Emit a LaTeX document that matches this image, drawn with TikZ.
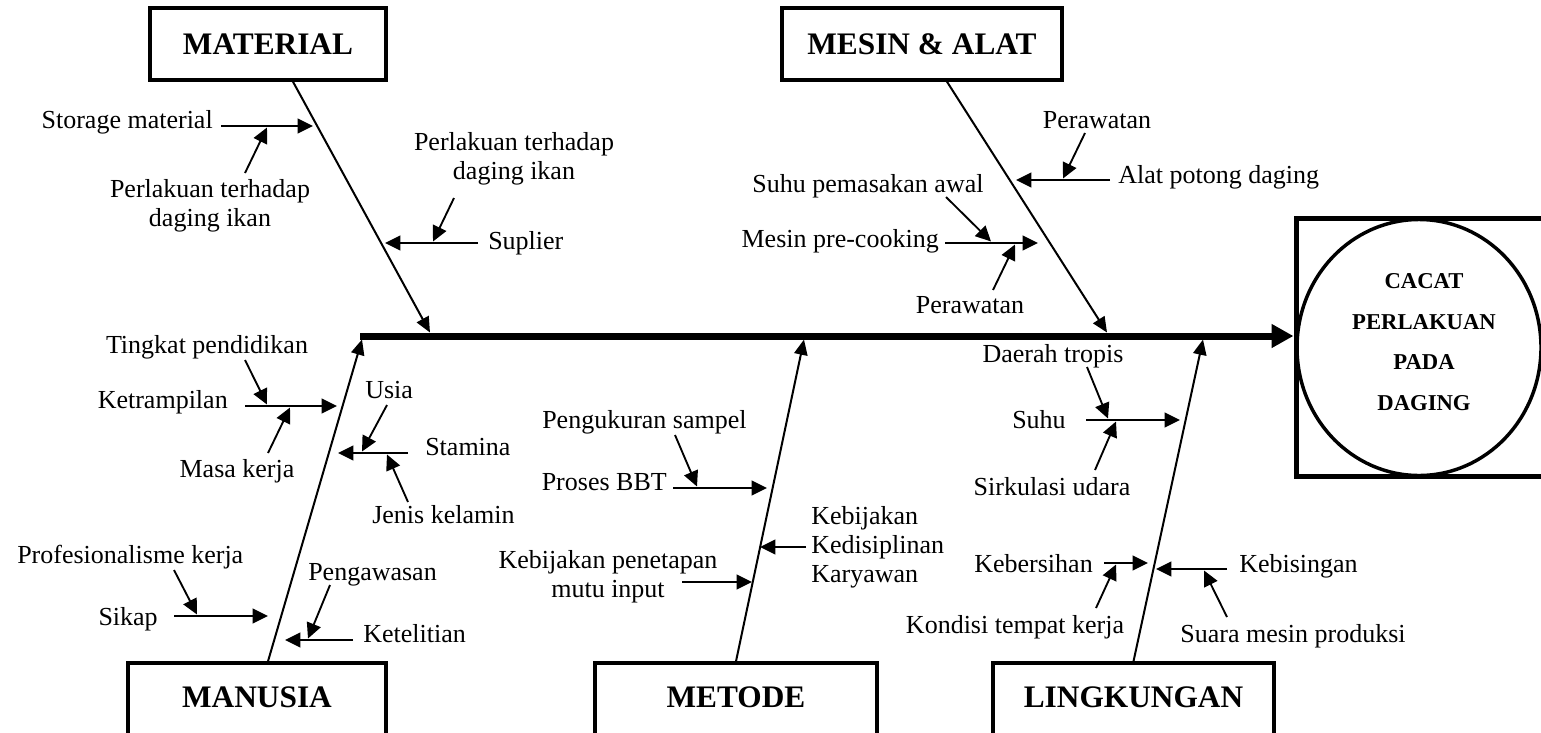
\documentclass[tikz,border=0pt]{standalone}
\usepackage{fontspec}
\setmainfont{Liberation Serif}
\usetikzlibrary{arrows.meta,shapes.geometric}
\begin{document}
\begin{tikzpicture}[x=0.75pt,y=-0.75pt,
  lbl/.style={inner sep=0pt, font=\fontsize{19.5pt}{22pt}\selectfont},
  catbox/.style={draw, line width=2.6pt, minimum height=54pt, inner sep=0pt,
    font=\bfseries\fontsize{23.5pt}{28pt}\selectfont},
  bone/.style={line width=1.5pt, -{Triangle[length=11.5pt,width=10pt]}},
  sub/.style={line width=1.4pt, -{Triangle[length=11.5pt,width=11pt]}},
  spine/.style={line width=5.25pt, -{Triangle[length=16.5pt,width=17pt]}},
]
\clip (0,0) rectangle (1541,732);
\fill[white] (0,0) rectangle (1541,732);

% ---------- category boxes ----------
\node[catbox, minimum width=177pt]    (mat) at (268,44)    {MATERIAL};
\node[catbox, minimum width=210pt]    (mes) at (922,44)    {MESIN \& ALAT};
\node[catbox, minimum width=193.5pt]  (man) at (257,699)   {\raisebox{3pt}{MANUSIA}};
\node[catbox, minimum width=211.5pt]  (met) at (736,699)   {\raisebox{3pt}{METODE}};
\node[catbox, minimum width=210.75pt] (lin) at (1133.5,699) {\raisebox{3pt}{LINGKUNGAN}};

% ---------- effect ----------
\node[draw, line width=3.75pt, minimum width=189pt, minimum height=193.5pt,
      inner sep=0pt] (effbox) at (1422,347.5) {};
\node[ellipse, draw, line width=2.6pt, minimum width=183pt, minimum height=192pt,
      inner sep=0pt] (effect) at (1419,347.5) {};
\node[align=center, inner sep=0pt,
      font=\bfseries\fontsize{17pt}{30.5pt}\selectfont] (effectText) at (1424,342)
      {CACAT\\PERLAKUAN\\PADA\\DAGING};

% ---------- spine ----------
\coordinate (head) at (360,336);
\draw[spine] (head) -- (head -| effbox.west);

% ---------- bones ----------
\coordinate (matT) at (430,332.5);
\coordinate (mesT) at (1107,332.5);
\coordinate (manT) at (362,339.5);
\coordinate (metT) at (804,339.5);
\coordinate (linT) at (1203,339.5);
\draw[bone] ([xshift=18.75pt]mat.south) -- (matT);
\draw[bone] ([xshift=18.75pt]mes.south) -- (mesT);
\draw[bone] ([xshift=8.25pt]man.north) -- (manT);
\draw[bone] (met.north) -- (metT);
\draw[bone] (lin.north) -- (linT);

% ---------- MATERIAL causes ----------
\node[lbl, anchor=base east] (storage) at (213,128) {Storage material};
\coordinate (storageA) at (221,126);
\coordinate (storageB) at (313,126);
\draw[sub] (storageA) -- (storageB);
\node[lbl, align=center] (perlA) at (210,205.5) {Perlakuan terhadap\\daging ikan};
\coordinate (perlAa) at (245,173);
\coordinate (perlAb) at (267,127.5);
\draw[sub] (perlAa) -- (perlAb);

\node[lbl, anchor=base west] (suplier) at (488,249) {Suplier};
\coordinate (suplierA) at (478,243);
\coordinate (suplierB) at (385,243);
\draw[sub] (suplierA) -- (suplierB);
\node[lbl, align=center] (perlB) at (514,158.6) {Perlakuan terhadap\\daging ikan};
\coordinate (perlBa) at (454,198);
\coordinate (perlBb) at (433,241.5);
\draw[sub] (perlBa) -- (perlBb);

% ---------- MESIN & ALAT causes ----------
\node[lbl, anchor=base west] (alat) at (1118,183) {Alat potong daging};
\coordinate (alatA) at (1110,180);
\coordinate (alatB) at (1016,180);
\draw[sub] (alatA) -- (alatB);
\node[lbl, anchor=base] (rawatA) at (1097,128) {Perawatan};
\coordinate (rawatAa) at (1085,133);
\coordinate (rawatAb) at (1063,178.5);
\draw[sub] (rawatAa) -- (rawatAb);

\node[lbl, anchor=base east] (precook) at (939,247) {Mesin pre-cooking};
\coordinate (precookA) at (945,243);
\coordinate (precookB) at (1038,243);
\draw[sub] (precookA) -- (precookB);
\node[lbl, anchor=base] (suhupem) at (868,192) {Suhu pemasakan awal};
\coordinate (suhupemA) at (946,197);
\coordinate (suhupemB) at (991,241.5);
\draw[sub] (suhupemA) -- (suhupemB);
\node[lbl, anchor=base] (rawatB) at (970,313) {Perawatan};
\coordinate (rawatBa) at (993,290);
\coordinate (rawatBb) at (1015,244.5);
\draw[sub] (rawatBa) -- (rawatBb);

% ---------- MANUSIA causes ----------
\node[lbl, anchor=base east] (ketr) at (228,408) {Ketrampilan};
\coordinate (ketrA) at (245,406);
\coordinate (ketrB) at (337,406);
\draw[sub] (ketrA) -- (ketrB);
\node[lbl, anchor=base] (tingkat) at (207,353) {Tingkat pendidikan};
\coordinate (tingkatA) at (245,360);
\coordinate (tingkatB) at (267,404.5);
\draw[sub] (tingkatA) -- (tingkatB);
\node[lbl, anchor=base] (masa) at (237,477) {Masa kerja};
\coordinate (masaA) at (268,453);
\coordinate (masaB) at (290,407.5);
\draw[sub] (masaA) -- (masaB);

\node[lbl, anchor=base west] (stamina) at (425,455) {Stamina};
\coordinate (staminaA) at (408,453);
\coordinate (staminaB) at (338,453);
\draw[sub] (staminaA) -- (staminaB);
\node[lbl, anchor=base west] (usia) at (365,398) {Usia};
\coordinate (usiaA) at (387,405);
\coordinate (usiaB) at (362,451.5);
\draw[sub] (usiaA) -- (usiaB);
\node[lbl, anchor=base west] (jenis) at (372,523) {Jenis kelamin};
\coordinate (jenisA) at (408,502);
\coordinate (jenisB) at (387,454.5);
\draw[sub] (jenisA) -- (jenisB);

\node[lbl, anchor=base east] (sikap) at (158,625) {Sikap};
\coordinate (sikapA) at (174,616);
\coordinate (sikapB) at (268,616);
\draw[sub] (sikapA) -- (sikapB);
\node[lbl, anchor=base west] (prof) at (17,563) {Profesionalisme kerja};
\coordinate (profA) at (174,570);
\coordinate (profB) at (197,614.5);
\draw[sub] (profA) -- (profB);

\node[lbl, anchor=base west] (ketel) at (363,642) {Ketelitian};
\coordinate (ketelA) at (353,640);
\coordinate (ketelB) at (285,640);
\draw[sub] (ketelA) -- (ketelB);
\node[lbl, anchor=base west] (pengaw) at (308,580) {Pengawasan};
\coordinate (pengawA) at (330,585);
\coordinate (pengawB) at (308,638.5);
\draw[sub] (pengawA) -- (pengawB);

% ---------- METODE causes ----------
\node[lbl, anchor=base east] (proses) at (667,490) {Proses BBT};
\coordinate (prosesA) at (673,488);
\coordinate (prosesB) at (767,488);
\draw[sub] (prosesA) -- (prosesB);
\node[lbl, anchor=base west] (penguk) at (542,428) {Pengukuran sampel};
\coordinate (pengukA) at (675,435);
\coordinate (pengukB) at (697,486.5);
\draw[sub] (pengukA) -- (pengukB);

\node[lbl, align=center] (kebpen) at (608,576.6) {Kebijakan penetapan\\mutu input};
\coordinate (kebpenA) at (682,582);
\coordinate (kebpenB) at (752,582);
\draw[sub] (kebpenA) -- (kebpenB);

\node[lbl, align=left, anchor=west] (kebdis) at (811,547.3) {Kebijakan\\Kedisiplinan\\Karyawan};
\coordinate (kebdisA) at (806,547);
\coordinate (kebdisB) at (760,547);
\draw[sub] (kebdisA) -- (kebdisB);

% ---------- LINGKUNGAN causes ----------
\node[lbl, anchor=base east] (suhu) at (1066,428) {Suhu};
\coordinate (suhuA) at (1086,420);
\coordinate (suhuB) at (1180,420);
\draw[sub] (suhuA) -- (suhuB);
\node[lbl, anchor=base] (daerah) at (1053,362) {Daerah tropis};
\coordinate (daerahA) at (1087,367);
\coordinate (daerahB) at (1108,418.5);
\draw[sub] (daerahA) -- (daerahB);
\node[lbl, anchor=base] (sirk) at (1052,495) {Sirkulasi udara};
\coordinate (sirkA) at (1095,470);
\coordinate (sirkB) at (1116,421.5);
\draw[sub] (sirkA) -- (sirkB);

\node[lbl, anchor=base east] (keber) at (1093,572) {Kebersihan};
\coordinate (keberA) at (1104,563);
\coordinate (keberB) at (1148,563);
\draw[sub] (keberA) -- (keberB);
\node[lbl, anchor=base] (kondisi) at (1015,633) {Kondisi tempat kerja};
\coordinate (kondisiA) at (1096,608);
\coordinate (kondisiB) at (1116,564.5);
\draw[sub] (kondisiA) -- (kondisiB);

\node[lbl, anchor=base west] (kebis) at (1239,572) {Kebisingan};
\coordinate (kebisA) at (1227,569);
\coordinate (kebisB) at (1156,569);
\draw[sub] (kebisA) -- (kebisB);
\node[lbl, anchor=base] (suara) at (1293,642) {Suara mesin produksi};
\coordinate (suaraA) at (1227,617);
\coordinate (suaraB) at (1204,570.5);
\draw[sub] (suaraA) -- (suaraB);
\end{tikzpicture}
\end{document}
